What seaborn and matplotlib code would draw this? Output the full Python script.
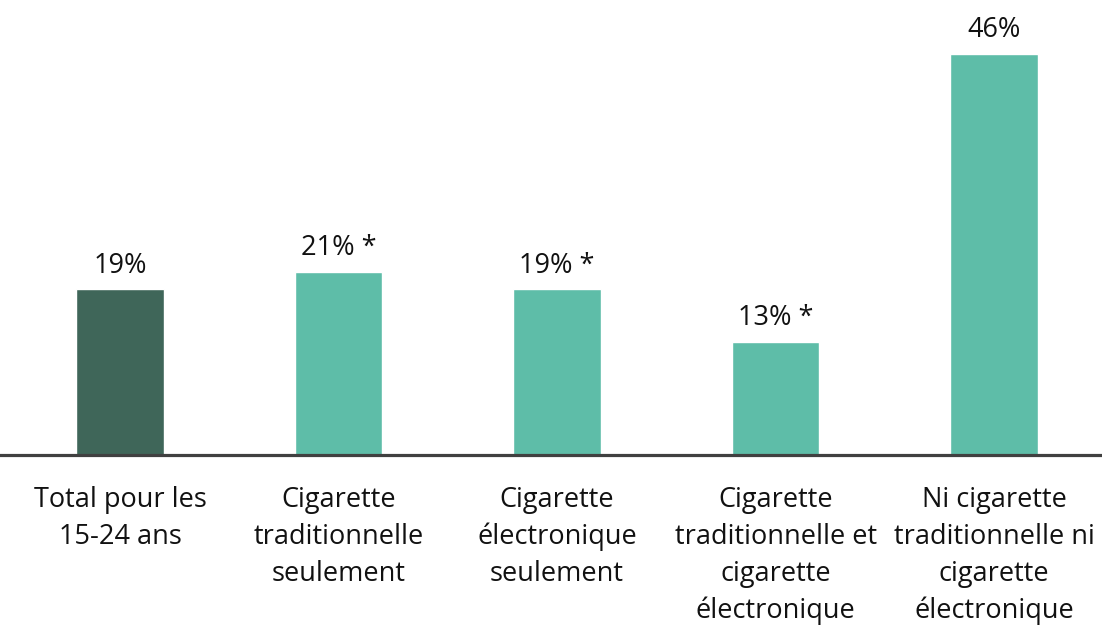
import matplotlib
matplotlib.use("Agg")
import matplotlib.pyplot as plt
import seaborn as sns
import pandas as pd

# data
categories = [
    "Total pour les\n15-24 ans",
    "Cigarette\ntraditionnelle\nseulement",
    "Cigarette\nélectronique\nseulement",
    "Cigarette\ntraditionnelle et\ncigarette\nélectronique",
    "Ni cigarette\ntraditionnelle ni\ncigarette\nélectronique",
]
values = [19, 21, 19, 13, 46]
value_labels = ["19%", "21% *", "19% *", "13% *", "46%"]
colors = ["#3F6659", "#5EBDA8", "#5EBDA8", "#5EBDA8", "#5EBDA8"]

df = pd.DataFrame({"cat": categories, "val": values})

sns.set_style("white")
plt.rcParams['font.family'] = ['Open Sans', 'DejaVu Sans']

fig = plt.figure(figsize=(11.02, 6.29), dpi=100)
ax = fig.add_axes([0, 0.2766, 1, 0.7234])

sns.barplot(data=df, x="cat", y="val", hue="cat", palette=colors,
            width=0.4, legend=False, saturation=1, ax=ax)

for cont, lab in zip(ax.containers, value_labels):
    ax.bar_label(cont, labels=[lab], padding=7, fontsize=19.5, color="#111111")

ax.set_xlim(-0.55, 4.494)
ax.set_ylim(0, 52.2)
ax.set_xlabel("")
ax.set_ylabel("")
ax.set_yticks([])
ax.tick_params(axis="x", length=0, pad=22, labelsize=19.5, labelcolor="#111111")
for t in ax.get_xticklabels():
    t.set_linespacing(1.43)

for s in ["top", "left", "right"]:
    ax.spines[s].set_visible(False)
ax.spines["bottom"].set_color("#404040")
ax.spines["bottom"].set_linewidth(2.3)

fig.savefig("out.png", dpi=100)
